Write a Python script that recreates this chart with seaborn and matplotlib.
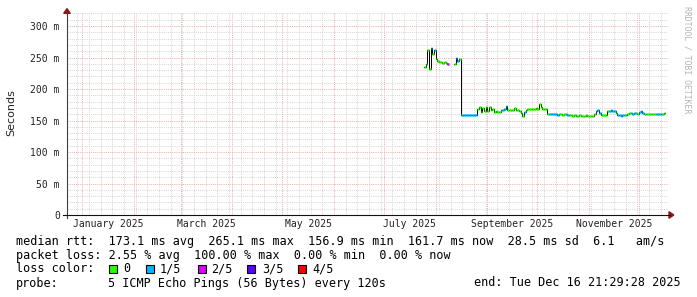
import numpy as np
import pandas as pd
import matplotlib
matplotlib.use("Agg")
import matplotlib.pyplot as plt
import matplotlib.dates as mdates
from matplotlib.lines import Line2D
from matplotlib.patches import Rectangle, Polygon
import seaborn as sns

# ---------------- data ----------------
series_start = "2025-07-25"          # first day with data
end_time = "2025-12-16 21:29:28"
median_ms = [
    235, 240, 262, 232, 265, 255, 262, 248, 245, 243,
    243, 242, 243, 241, 240, np.nan, np.nan, np.nan, 240, 250,
    245, 248, 159, 158, 158, 159, 158, 158, 158, 158,
    159, 158, 168, 172, 164, 170, 165, 172, 165, 171,
    166, 168, 164, 165, 163, 163, 166, 166, 168, 173,
    166, 166, 166, 166, 170, 166, 166, 165, 162, 157,
    163, 167, 168, 168, 168, 169, 168, 170, 168, 176,
    172, 168, 168, 168, 160, 160, 160, 161, 160, 160,
    159, 160, 160, 159, 160, 160, 159, 158, 158, 157,
    158, 157, 157, 158, 157, 157, 157, 158, 157, 157,
    157, 157, 160, 165, 166, 162, 159, 159, 159, 158,
    165, 165, 166, 165, 165, 162, 158, 158, 157, 158,
    158, 158, 160, 162, 162, 161, 162, 162, 160, 163,
    165, 162, 160, 160, 161, 160, 160, 161, 160, 160,
    160, 161, 160, 160, 162,
]
# loss level per day: 0 -> 0, 1 -> 1/5, 2 -> 2/5 ...
loss_level = [
    0, 0, 0, 0, 1, 0, 1, 0, 0, 0,
    0, 0, 0, 0, 2, 0, 0, 0, 0, 1,
    1, 0, 0, 1, 1, 1, 1, 1, 1, 1,
    1, 1, 0, 0, 0, 0, 0, 0, 0, 0,
    0, 0, 0, 0, 0, 0, 0, 1, 1, 0,
    0, 0, 0, 0, 0, 0, 0, 0, 0, 0,
    1, 0, 0, 0, 0, 0, 0, 0, 0, 0,
    0, 0, 0, 0, 0, 1, 1, 1, 1, 1,
    1, 0, 0, 0, 0, 1, 1, 0, 0, 0,
    0, 0, 0, 0, 0, 0, 0, 0, 0, 0,
    0, 0, 0, 1, 1, 1, 0, 0, 0, 0,
    0, 1, 1, 1, 1, 0, 1, 1, 1, 1,
    0, 1, 0, 0, 1, 1, 1, 0, 0, 1,
    1, 1, 0, 0, 0, 0, 0, 0, 0, 1,
    1, 1, 1, 0, 0,
]
loss_labels = ["0", "1/5", "2/5", "3/5", "4/5"]
loss_colors = ["#26ff00", "#00b8ff", "#dd00ff", "#5e00ff", "#ff0000"]
month_labels = ["January 2025", "March 2025", "May 2025", "July 2025",
                "September 2025", "November 2025"]
ytick_values = [0, 50, 100, 150, 200, 250, 300]
ytick_labels = ["0", "50 m", "100 m", "150 m", "200 m", "250 m", "300 m"]

legend_rtt = ("median rtt:  173.1 ms avg  265.1 ms max  156.9 ms min  "
              "161.7 ms now  28.5 ms sd  6.1   am/s")
legend_loss = "packet loss: 2.55 % avg  100.00 % max  0.00 % min  0.00 % now"
probe_text = "5 ICMP Echo Pings (56 Bytes) every 120s"
end_text = "end: Tue Dec 16 21:29:28 2025"

# ---------------- build frames ----------------
dates = pd.date_range(series_start, periods=len(median_ms), freq="D")
t_end = pd.Timestamp(end_time)
vals = np.array(median_ms, dtype=float)

run_id = np.cumsum(np.isnan(vals))
base = pd.DataFrame({"t": dates, "v": vals, "run": run_id}).dropna()
base = pd.concat([base, pd.DataFrame({"t": [t_end], "v": [vals[-1]], "run": [run_id[-1]]})],
                 ignore_index=True)

rows = []
for i, v in enumerate(vals):
    if np.isnan(v):
        continue
    t0 = dates[i]
    t1 = dates[i + 1] if i + 1 < len(vals) else t_end
    lab = loss_labels[loss_level[i]]
    rows.append((t0, v, i, lab))
    rows.append((t1, v, i, lab))
seg = pd.DataFrame(rows, columns=["t", "v", "seg", "loss"])

# ---------------- figure ----------------
W, H = 697, 297
fig = plt.figure(figsize=(W / 100, H / 100), dpi=100, facecolor="white")

def fx(px):
    return px / W

def fy(py):
    return 1 - py / H

ax_l, ax_r, ax_b, ax_t = 67, 668, 215, 13.4
ax = fig.add_axes([fx(ax_l), fy(ax_b), (ax_r - ax_l) / W, (ax_b - ax_t) / H])
ax.set_facecolor("white")

jan1 = pd.Timestamp("2025-01-01")
pxday = (639 - 82.3) / 334.0
xmin = jan1 - pd.Timedelta(days=(82.3 - ax_l) / pxday)
xmax = jan1 + pd.Timedelta(days=(ax_r - 82.3) / pxday)

sns.lineplot(data=base, x="t", y="v", units="run", estimator=None,
             color="black", lw=0.7, drawstyle="steps-post", ax=ax, zorder=3)
sns.lineplot(data=seg, x="t", y="v", hue="loss", units="seg", estimator=None,
             hue_order=loss_labels, palette=dict(zip(loss_labels, loss_colors)),
             lw=1.8, legend=False, ax=ax, zorder=4, solid_capstyle="butt")

ax.set_xlim(xmin, xmax)
ax.set_ylim(0, 320)
ax.set_xlabel("")
ax.set_ylabel("")

month_starts = pd.date_range("2025-01-01", "2025-12-01", freq="MS")
weeks = pd.date_range("2024-12-29", "2025-12-20", freq="7D")
ax.set_xticks(mdates.date2num(month_starts))
ax.set_xticks(mdates.date2num(weeks), minor=True)
ax.set_yticks(ytick_values)
ax.set_yticks(np.arange(0, 321, 10), minor=True)
ax.set_yticklabels(ytick_labels, fontfamily="DejaVu Sans Mono", fontsize=7, color="#222222")
ax.tick_params(which="both", length=0)
ax.tick_params(axis="x", labelbottom=False)
ax.tick_params(axis="y", pad=5.2)

ax.set_axisbelow(True)
ax.grid(which="minor", color="#d4d4d4", lw=0.7, ls=(0, (1, 1.2)))
ax.grid(which="major", color="#eeaaaa", lw=0.7, ls=(0, (1, 1.2)))
for s in ax.spines.values():
    s.set_visible(False)

for lab in month_labels:
    ms = pd.Timestamp(lab.split()[0] + " 1 2025")
    me = ms + pd.offsets.MonthBegin(1)
    mid = ms + (me - ms) / 2
    ax.annotate(lab, xy=(mdates.date2num(mid), 0), xycoords=("data", "axes fraction"),
                xytext=(0, -9.3 * 0.72), textcoords="offset points",
                ha="center", va="center", fontsize=7, family="DejaVu Sans Mono",
                color="#222222", annotation_clip=False)

# axes lines and arrows (pixel geometry)
fig.add_artist(Line2D([fx(67), fx(67)], [fy(218), fy(13)], color="#404040", lw=0.8,
                      transform=fig.transFigure))
fig.add_artist(Line2D([fx(63), fx(669.5)], [fy(215), fy(215)], color="#111111", lw=0.8,
                      transform=fig.transFigure))
fig.add_artist(Polygon([(fx(67), fy(8.6)), (fx(63.7), fy(13.4)), (fx(70.3), fy(13.4))],
                       closed=True, color="#8b1a1a", transform=fig.transFigure))
fig.add_artist(Polygon([(fx(673.8), fy(215)), (fx(669), fy(211.7)), (fx(669), fy(218.3))],
                       closed=True, color="#8b1a1a", transform=fig.transFigure))

fig.text(fx(11), fy(113), "Seconds", rotation=90, ha="center", va="center",
         fontsize=8, family="DejaVu Sans", color="#222222")
fig.text(fx(687), fy(60), "RRDTOOL / TOBI OETIKER", rotation=270, ha="center",
         va="center", fontsize=5.9, family="DejaVu Sans Mono", color="#b4b4b4")

# legend block
mono = dict(family="DejaVu Sans Mono", fontsize=8.5, color="black", va="center")
fig.text(fx(16), fy(241), legend_rtt, ha="left", **mono)
fig.text(fx(16), fy(255), legend_loss, ha="left", **mono)
fig.text(fx(16), fy(269), "loss color:", ha="left", **mono)
box_x = [108.7, 145.7, 198.3, 247.3, 298.3]
lab_x = [123.0, 159.3, 211.3, 261.7, 312.7]
for bx, lx, lab, col in zip(box_x, lab_x, loss_labels, loss_colors):
    fig.add_artist(Rectangle((fx(bx), fy(273.2)), 8 / W, 8 / H, facecolor=col,
                             edgecolor="black", lw=0.8, transform=fig.transFigure))
    fig.text(fx(lx), fy(269), lab, ha="left", **mono)
fig.text(fx(16), fy(283), "probe:", ha="left", **mono)
fig.text(fx(108.3), fy(283), probe_text, ha="left", **mono)
fig.text(fx(680.5), fy(283), end_text, ha="right", **mono)

fig.savefig("out.png", dpi=100, facecolor="white")
